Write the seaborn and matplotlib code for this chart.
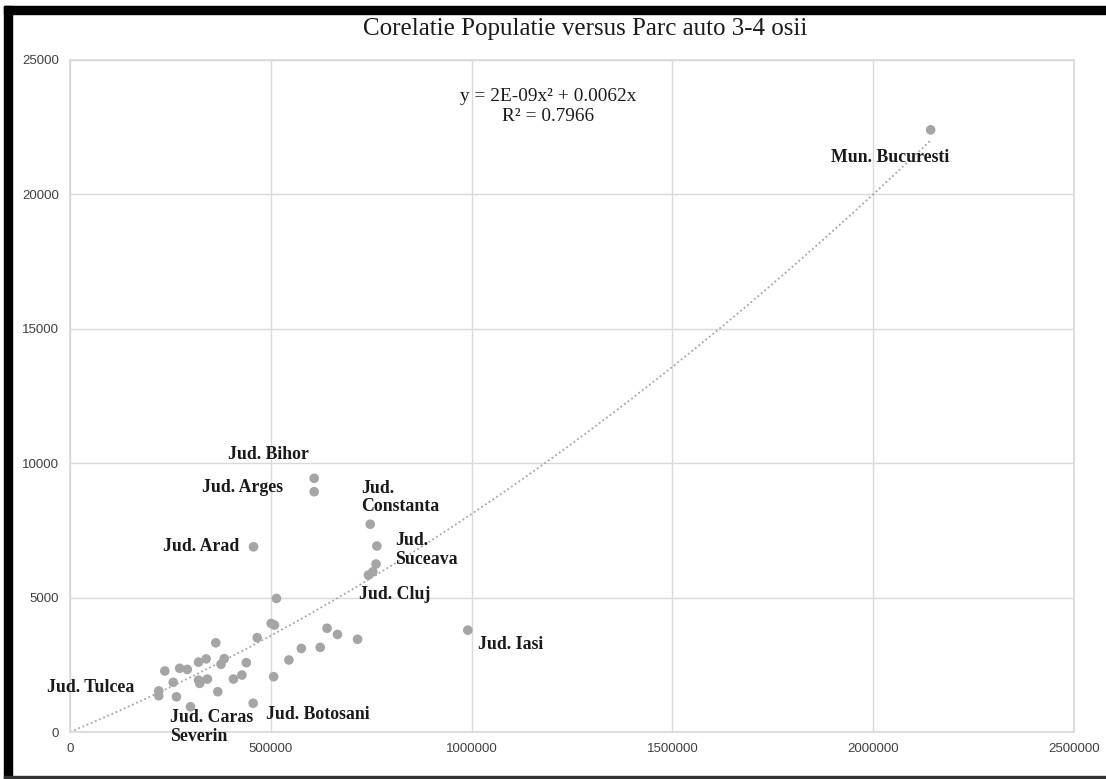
import numpy as np
import pandas as pd
import matplotlib
matplotlib.use('Agg')
import matplotlib.pyplot as plt
import seaborn as sns
from matplotlib.patches import Rectangle

# population (x) vs number of 3-4 axle vehicles (y), one point per county
populatie = [2143000, 608000, 608000, 747500, 457000, 764000, 762000, 754000, 743000,
             514000, 990500, 501000, 509000, 466000, 363000, 640000, 666000, 716000,
             623000, 576000, 545000, 507000, 384000, 376000, 339000, 320000, 439000,
             273000, 292000, 236000, 428000, 407000, 342000, 320000, 323000, 257000,
             368000, 221000, 221000, 265000, 300000, 456000]
parc_auto = [22400, 9440, 8940, 7730, 6890, 6920, 6250, 5960, 5840,
             4970, 3790, 4040, 3980, 3510, 3320, 3860, 3630, 3450,
             3150, 3110, 2680, 2060, 2730, 2520, 2720, 2600, 2580,
             2370, 2330, 2270, 2120, 1970, 1970, 1930, 1810, 1850,
             1500, 1530, 1350, 1310, 940, 1070]

etichete = ['Mun. Bucuresti', 'Jud. Bihor', 'Jud. Arges', 'Jud.\nConstanta', 'Jud. Arad',
            'Jud.\nSuceava', 'Jud. Cluj', 'Jud. Iasi', 'Jud. Tulcea', 'Jud. Caras\nSeverin',
            'Jud. Botosani']
# label anchors (data coords) and alignment
etichete_pos = [(2043000, 21390, 'center'), (495000, 10340, 'center'), (430000, 9080, 'center'),
                (725000, 8720, 'left'), (422000, 6920, 'right'), (810000, 6770, 'left'),
                (720000, 5130, 'left'), (1016000, 3270, 'left'), (-58000, 1674, 'left'),
                (250000, 186, 'left'), (489000, 670, 'left')]

df = pd.DataFrame({'populatie': populatie, 'parc': parc_auto})

# polynomial trendline through origin: y = a*x^2 + b*x
x = df['populatie'].values.astype(float)
y = df['parc'].values.astype(float)
A = np.column_stack([x ** 2, x])
coef, *_ = np.linalg.lstsq(A, y, rcond=None)

sns.set_theme(style='white')
plt.rcParams['font.family'] = ['Liberation Sans', 'DejaVu Sans']

fig = plt.figure(figsize=(11.06, 7.79), dpi=100)
ax = fig.add_axes([0.0633, 0.0603, 0.9078, 0.8627])

sns.scatterplot(data=df, x='populatie', y='parc', ax=ax, color='#a5a5a5',
                s=48, edgecolor='none', zorder=3)

xs = np.linspace(0, x.max(), 300)
ax.plot(xs, coef[0] * xs ** 2 + coef[1] * xs, color='#a5a5a5', linestyle=(0, (1, 1.5)),
        linewidth=1.3, zorder=2)

ax.set_xlim(0, 2500000)
ax.set_ylim(0, 25000)
ax.set_xticks([0, 500000, 1000000, 1500000, 2000000, 2500000])
ax.set_yticks([0, 5000, 10000, 15000, 20000, 25000])
ax.xaxis.set_major_formatter(matplotlib.ticker.FuncFormatter(lambda v, p: f'{int(v)}'))
ax.yaxis.set_major_formatter(matplotlib.ticker.FuncFormatter(lambda v, p: f'{int(v)}'))
ax.grid(True, color='#d9d9d9', linewidth=1)
for s in ax.spines.values():
    s.set_color('#d9d9d9')
ax.tick_params(axis='both', length=0, labelsize=9.5, colors='#404040', pad=8)
ax.set_xlabel('')
ax.set_ylabel('')

for t, (lx, ly, ha) in zip(etichete, etichete_pos):
    ax.text(lx, ly, t, ha=ha, va='center', fontsize=12.8, fontweight='bold',
            family='Liberation Serif', color='#1a1a1a', linespacing=1.1,
            clip_on=False, zorder=4)

ax.text(0.476, 0.958, 'y = 2E-09x² + 0.0062x\nR² = 0.7966', transform=ax.transAxes,
        ha='center', va='top', fontsize=13.9, family='Liberation Serif', color='#1a1a1a',
        linespacing=1.2)

fig.text(0.529, 0.963, 'Corelatie Populatie versus Parc auto 3-4 osii', ha='center', va='center',
         fontsize=18, family='Liberation Serif', color='#1a1a1a')

# black frame of the screenshot
fig.patches.append(Rectangle((4 / 1106, 0), 8 / 1106, 1 - 6 / 779, transform=fig.transFigure,
                             color='black', zorder=10))
fig.patches.append(Rectangle((4 / 1106, 1 - 14 / 779), 1, 8 / 779, transform=fig.transFigure,
                             color='black', zorder=10))
fig.patches.append(Rectangle((4 / 1106, 0), 1, 3 / 779, transform=fig.transFigure,
                             color='#333333', zorder=10))

fig.savefig('out.png', dpi=100)
